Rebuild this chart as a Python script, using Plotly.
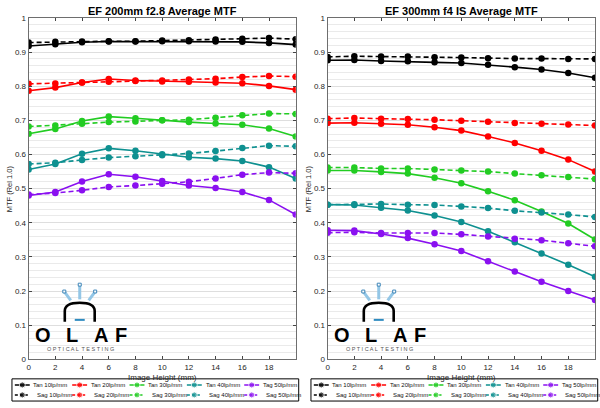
import plotly.graph_objects as go

# ---------------- data ----------------
image_height = [0, 2, 4, 6, 8, 10, 12, 14, 16, 18, 20]
x_tick_vals = [0, 2, 4, 6, 8, 10, 12, 14, 16, 18]
y_tick_vals = [0, 0.1, 0.2, 0.3, 0.4, 0.5, 0.6, 0.7, 0.8, 0.9, 1.0]
titles = ["EF 200mm f2.8 Average MTF", "EF 300mm f4 IS Average MTF"]
tan_labels = ["Tan 10lp/mm", "Tan 20lp/mm", "Tan 30lp/mm", "Tan 40lp/mm", "Tag 50lp/mm"]
sag_labels = ["Sag 10lp/mm", "Sag 20lp/mm", "Sag 30lp/mm", "Sag 40lp/mm", "Sag 50lp/mm"]
colors = ["#000000", "#ff0000", "#22cc22", "#0e9090", "#8a10f0"]

# EF 200mm f2.8
ef200_tan10 = [0.918, 0.923, 0.929, 0.931, 0.931, 0.932, 0.932, 0.931, 0.930, 0.927, 0.922]
ef200_sag10 = [0.928, 0.930, 0.931, 0.932, 0.932, 0.934, 0.935, 0.937, 0.939, 0.941, 0.938]
ef200_tan20 = [0.787, 0.796, 0.811, 0.821, 0.817, 0.814, 0.813, 0.811, 0.809, 0.801, 0.790]
ef200_sag20 = [0.807, 0.808, 0.811, 0.813, 0.815, 0.817, 0.820, 0.822, 0.827, 0.830, 0.828]
ef200_tan30 = [0.661, 0.675, 0.698, 0.711, 0.706, 0.700, 0.695, 0.691, 0.687, 0.676, 0.653]
ef200_sag30 = [0.682, 0.685, 0.690, 0.695, 0.697, 0.700, 0.702, 0.708, 0.715, 0.720, 0.719]
ef200_tan40 = [0.556, 0.572, 0.602, 0.618, 0.611, 0.601, 0.592, 0.588, 0.581, 0.563, 0.530]
ef200_sag40 = [0.572, 0.576, 0.584, 0.591, 0.595, 0.598, 0.603, 0.610, 0.619, 0.626, 0.624]
ef200_tan50 = [0.480, 0.490, 0.521, 0.542, 0.535, 0.522, 0.509, 0.502, 0.490, 0.467, 0.424]
ef200_sag50 = [0.483, 0.487, 0.495, 0.505, 0.509, 0.514, 0.520, 0.530, 0.541, 0.547, 0.545]

# EF 300mm f4 IS
ef300_tan10 = [0.876, 0.877, 0.874, 0.873, 0.870, 0.868, 0.863, 0.856, 0.849, 0.839, 0.825]
ef300_sag10 = [0.886, 0.888, 0.887, 0.887, 0.885, 0.884, 0.882, 0.881, 0.881, 0.880, 0.880]
ef300_tan20 = [0.692, 0.693, 0.690, 0.687, 0.680, 0.670, 0.653, 0.634, 0.611, 0.585, 0.550]
ef300_sag20 = [0.705, 0.707, 0.705, 0.704, 0.702, 0.699, 0.696, 0.692, 0.690, 0.688, 0.685]
ef300_tan30 = [0.553, 0.553, 0.549, 0.544, 0.532, 0.516, 0.492, 0.466, 0.433, 0.398, 0.351]
ef300_sag30 = [0.562, 0.562, 0.559, 0.559, 0.556, 0.553, 0.550, 0.544, 0.539, 0.534, 0.528]
ef300_tan40 = [0.453, 0.452, 0.444, 0.436, 0.421, 0.402, 0.375, 0.343, 0.310, 0.277, 0.242]
ef300_sag40 = [0.453, 0.454, 0.455, 0.453, 0.452, 0.448, 0.443, 0.435, 0.430, 0.424, 0.417]
ef300_tan50 = [0.378, 0.377, 0.367, 0.355, 0.337, 0.317, 0.287, 0.257, 0.227, 0.200, 0.174]
ef300_sag50 = [0.371, 0.372, 0.370, 0.370, 0.370, 0.366, 0.360, 0.353, 0.349, 0.340, 0.331]

panels = [
    ([ef200_tan10, ef200_tan20, ef200_tan30, ef200_tan40, ef200_tan50],
     [ef200_sag10, ef200_sag20, ef200_sag30, ef200_sag40, ef200_sag50]),
    ([ef300_tan10, ef300_tan20, ef300_tan30, ef300_tan40, ef300_tan50],
     [ef300_sag10, ef300_sag20, ef300_sag30, ef300_sag40, ef300_sag50]),
]

# ---------------- layout helpers ----------------
W, H = 600, 408
FONT = "Liberation Sans, Arial, sans-serif"


def px(x, y):
    return x / W, 1 - y / H


plot_left = [26.7, 326.7]
plot_right = [294.7, 595.0]
plot_top, plot_bottom = 14.3, 363.3
leg_left = [10.0, 310.0]
leg_right = [297.7, 597.7]
leg_top, leg_bottom = 383.3, 406.0

fig = go.Figure()
layout = dict(
    width=W, height=H, margin=dict(l=0, r=0, t=0, b=0),
    paper_bgcolor="white", plot_bgcolor="white", showlegend=False,
    font=dict(family=FONT, size=8, color="#262626"),
)
annotations = []
shapes = []

for p in range(2):
    ax = "" if p == 0 else "2"
    lax = str(3 + p)
    tans, sags = panels[p]
    # data traces
    for i in range(5):
        fig.add_trace(go.Scatter(
            x=image_height, y=sags[i], mode="lines+markers", name=sag_labels[i],
            line=dict(color=colors[i], width=1.6, dash="5px,3px"),
            marker=dict(color=colors[i], size=6.5, symbol="circle"),
            xaxis="x" + ax, yaxis="y" + ax))
        fig.add_trace(go.Scatter(
            x=image_height, y=tans[i], mode="lines+markers", name=tan_labels[i],
            line=dict(color=colors[i], width=1.6),
            marker=dict(color=colors[i], size=6.5, symbol="circle"),
            xaxis="x" + ax, yaxis="y" + ax))

    xd = [plot_left[p] / W, plot_right[p] / W]
    yd = [1 - plot_bottom / H, 1 - plot_top / H]
    layout["xaxis" + ax] = dict(
        domain=xd, range=[0, 20], tickvals=x_tick_vals, ticks="inside", ticklen=3,
        tickcolor="#444", showline=True, linecolor="#6e6e6e", linewidth=1, mirror="ticks",
        showgrid=False, zeroline=False, tickfont=dict(size=8, color="#262626"),
        anchor="y" + ax)
    layout["yaxis" + ax] = dict(
        domain=yd, range=[0, 1], tickvals=y_tick_vals, ticks="inside", ticklen=3,
        tickcolor="#444", showline=True, linecolor="#6e6e6e", linewidth=1, mirror="ticks",
        showgrid=True, gridcolor="#dedede", gridwidth=1, zeroline=False,
        minor=dict(dtick=0.02, showgrid=True, gridcolor="#eaeaea", gridwidth=1),
        tickfont=dict(size=8, color="#262626"), anchor="x" + ax)

    # title & axis titles
    cx = (plot_left[p] + plot_right[p]) / 2
    annotations.append(dict(text="<b>" + titles[p] + "</b>", x=cx / W, y=1 - 7.5 / H,
                            xref="paper", yref="paper", showarrow=False,
                            font=dict(size=11, color="#000", family=FONT),
                            xanchor="center", yanchor="middle"))
    annotations.append(dict(text="Image Height (mm)", x=cx / W, y=1 - 381.5 / H,
                            xref="paper", yref="paper", showarrow=False,
                            font=dict(size=8, color="#262626"), xanchor="center", yanchor="middle"))
    annotations.append(dict(text="MTF (Rel 1.0)", x=(plot_left[p] - 19) / W,
                            y=1 - (plot_top + plot_bottom) / 2 / H,
                            xref="paper", yref="paper", showarrow=False, textangle=-90,
                            font=dict(size=7.5, color="#262626"), xanchor="center", yanchor="middle"))

    # legend (own small axes, 5 columns x 2 rows)
    layout["xaxis" + lax] = dict(domain=[leg_left[p] / W, leg_right[p] / W], range=[0, 5],
                                 visible=False, anchor="y" + lax, fixedrange=True)
    layout["yaxis" + lax] = dict(domain=[1 - leg_bottom / H, 1 - leg_top / H], range=[0, 2],
                                 visible=False, anchor="x" + lax, fixedrange=True)
    shapes.append(dict(type="rect", xref="x" + lax + " domain", yref="y" + lax + " domain",
                       x0=0, x1=1, y0=0, y1=1, line=dict(color="#000", width=1),
                       fillcolor="white", layer="below"))
    for row, (labels, dash) in enumerate([(tan_labels, "solid"), (sag_labels, "3px,2px")]):
        yy = 1.45 if row == 0 else 0.55
        for i in range(5):
            fig.add_trace(go.Scatter(
                x=[i + 0.05, i + 0.18, i + 0.31], y=[yy, yy, yy], mode="lines+markers",
                line=dict(color=colors[i], width=1.5, dash=dash),
                marker=dict(color=colors[i], size=[0, 6, 0]),
                hoverinfo="skip", xaxis="x" + lax, yaxis="y" + lax))
            annotations.append(dict(text=labels[i], x=i + (0.34 if row == 0 else 0.40), y=yy,
                                    xref="x" + lax, yref="y" + lax, showarrow=False,
                                    xanchor="left", yanchor="middle",
                                    font=dict(size=6, color="#111")))

    # OLAF logo
    ox = 300 * p
    blue_l = "#93c6e6"
    blue_d = "#3f86b8"
    # rays
    for (x0, y0, x1, y1) in [(78, 287, 78, 302), (62.5, 294, 69, 303), (93.5, 294, 87, 303)]:
        a0 = px(x0 + ox, y0)
        a1 = px(x1 + ox, y1)
        shapes.append(dict(type="line", xref="paper", yref="paper", x0=a0[0], y0=a0[1],
                           x1=a1[0], y1=a1[1], line=dict(color=blue_l, width=3)))
        b0 = px(x0 + ox - 1.5, y0 - 1.5)
        b1 = px(x0 + ox + 1.5, y0 + 1.5)
        shapes.append(dict(type="rect", xref="paper", yref="paper", x0=b0[0], y0=b0[1],
                           x1=b1[0], y1=b1[1], line=dict(color=blue_d, width=1),
                           fillcolor="white"))
    # arch
    pts = [(63, 325), (63, 314), (63, 305.5), (78, 305.5), (93, 305.5), (93, 314), (93, 325)]
    q = [px(a + ox, b) for a, b in pts]
    path = ("M {0[0]},{0[1]} L {1[0]},{1[1]} Q {2[0]},{2[1]} {3[0]},{3[1]} "
            "Q {4[0]},{4[1]} {5[0]},{5[1]} L {6[0]},{6[1]}").format(*q)
    shapes.append(dict(type="path", xref="paper", yref="paper", path=path,
                       line=dict(color="#000", width=2.6)))
    d0 = px(73 + ox, 323)
    d1 = px(83 + ox, 323)
    shapes.append(dict(type="line", xref="paper", yref="paper", x0=d0[0], y0=d0[1],
                       x1=d1[0], y1=d1[1], line=dict(color="#2e8bc0", width=2)))
    for letter, lx in zip(["O", "L", "A", "F"], [41, 70, 99.5, 119.5]):
        annotations.append(dict(text="<b>" + letter + "</b>", x=(lx + ox) / W, y=1 - 338 / H,
                                xref="paper", yref="paper", showarrow=False,
                                xanchor="center", yanchor="middle",
                                font=dict(size=20, color="#000", family=FONT)))
    annotations.append(dict(text="O P T I C A L  T E S T I N G", x=(79 + ox) / W, y=1 - 352.5 / H,
                            xref="paper", yref="paper", showarrow=False,
                            xanchor="center", yanchor="middle",
                            font=dict(size=5.5, color="#555", family=FONT)))

layout["annotations"] = annotations
layout["shapes"] = shapes
fig.update_layout(**layout)
fig.write_html("out.html")
